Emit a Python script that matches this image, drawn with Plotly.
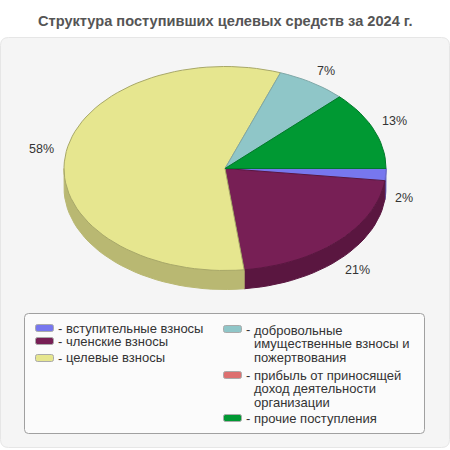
import math
import plotly.graph_objects as go

TITLE = "Структура поступивших целевых средств за 2024 г."
names = [["вступительные взносы"], ["членские взносы"], ["целевые взносы"],
         ["добровольные", "имущественные взносы и", "пожертвования"],
         ["прибыль от приносящей", "доход деятельности", "организации"],
         ["прочие поступления"]]
values = [1.9, 21.2, 57.5, 7.0, 0.0, 12.4]
pct_labels = ["2%", "21%", "58%", "7%", "", "13%"]
colors = ["#7777ee", "#771f55", "#e6e68f", "#8fc6c8", "#dd7070", "#009933"]
side_colors = ["#5a5ab4", "#5a1640", "#b9b872", "#6c9697", "#a85555", "#007426"]
edge_colors = ["#6a6ad0", "#5a1640", "#a8a868", "#7fa8a8", "#b05a5a", "#007a2a"]

CX, CY, RX, RY, DEPTH = 225.0, 168.5, 161.0, 102.0, 19.0
LBL_RX, LBL_RY = 183.0, 120.0
label_nudge = [(-4, 3), (3, -2), (-2, -6), (2, 3), (0, 0), (0, -2)]

def ell(t, dy=0.0):
    return CX + RX * math.cos(t), CY + RY * math.sin(t) + dy

def arc(a, b, dy=0.0, n=120):
    steps = max(2, int(abs(b - a) / math.tau * n) + 2)
    return [ell(a + (b - a) * i / (steps - 1), dy) for i in range(steps)]

fig = go.Figure()
total = sum(values)
angles = []
start = 0.0
for v in values:
    end = start + v / total * math.tau
    angles.append((start, end))
    start = end

def add_poly(pts, fill, line):
    fig.add_trace(go.Scatter(x=[p[0] for p in pts], y=[p[1] for p in pts], mode="lines",
                             fill="toself", fillcolor=fill, line=dict(color=line, width=1),
                             hoverinfo="skip", showlegend=False))

# extruded rim: only the front half (0..pi) is visible
for (a, b), c in zip(angles, side_colors):
    lo, hi = a, min(b, math.pi)
    if hi > lo:
        top = arc(lo, hi)
        bottom = arc(hi, lo, DEPTH)
        add_poly(top + bottom + [top[0]], c, c)

# top faces
for (a, b), c, e, v in zip(angles, colors, edge_colors, values):
    if v > 0:
        pts = [(CX, CY)] + arc(a, b) + [(CX, CY)]
        add_poly(pts, c, e)

annotations = [dict(x=225, y=21, text="<b>" + TITLE + "</b>", showarrow=False,
                    font=dict(family="Liberation Sans", size=14.6, color="#555555"))]

for (a, b), lab, (nx, ny) in zip(angles, pct_labels, label_nudge):
    if not lab:
        continue
    m = (a + b) / 2
    lx = CX + LBL_RX * math.cos(m) + nx
    ly = CY + LBL_RY * math.sin(m) + (DEPTH if math.sin(m) > 0 else 0) + ny
    annotations.append(dict(x=lx, y=ly, text=lab, showarrow=False,
                            font=dict(family="Liberation Sans", size=12.5, color="#333333")))

def rrect(x0, y0, x1, y1, r):
    return (f"M{x0+r},{y0} L{x1-r},{y0} Q{x1},{y0} {x1},{y0+r} L{x1},{y1-r} Q{x1},{y1} {x1-r},{y1} "
            f"L{x0+r},{y1} Q{x0},{y1} {x0},{y1-r} L{x0},{y0+r} Q{x0},{y0} {x0+r},{y0} Z")

shapes = [
    dict(type="path", path=rrect(0.5, 37.5, 449.5, 447.5, 8), fillcolor="#f5f5f5",
         line=dict(color="#e6e6e6", width=1), layer="below"),
    dict(type="path", path=rrect(24.5, 313.5, 424.5, 433.5, 4), fillcolor="#fbfbfb",
         line=dict(color="#a0a0a0", width=1), layer="below"),
]

swatch_x = [35, 35, 35, 223, 223, 223]
swatch_y = [328, 341, 358, 329, 375, 418]
text_y = [328, 341, 357, 330, 375, 418]
LINE_H = 13.7
for lines, c, sx, sy, ty in zip(names, colors, swatch_x, swatch_y, text_y):
    shapes.append(dict(type="path", path=rrect(sx + .5, sy - 3.5, sx + 18.5, sy + 3.5, 2),
                       fillcolor=c, line=dict(color="#aaaaaa", width=1), layer="below"))
    annotations.append(dict(x=sx + 21, y=sy, text="-", showarrow=False, xanchor="left",
                            font=dict(family="Liberation Sans", size=13, color="#333333")))
    for i, ln in enumerate(lines):
        annotations.append(dict(x=sx + 29, y=ty + i * LINE_H, text=ln, showarrow=False, xanchor="left",
                                font=dict(family="Liberation Sans", size=13, color="#333333")))

fig.update_layout(
    width=450, height=450, margin=dict(l=0, r=0, t=0, b=0),
    paper_bgcolor="white", plot_bgcolor="rgba(0,0,0,0)",
    xaxis=dict(range=[0, 450], visible=False, fixedrange=True),
    yaxis=dict(range=[450, 0], visible=False, fixedrange=True),
    shapes=shapes, annotations=annotations, showlegend=False,
)
fig.write_html("out.html", post_script="document.body.style.margin='0';", config={"displayModeBar": False})
